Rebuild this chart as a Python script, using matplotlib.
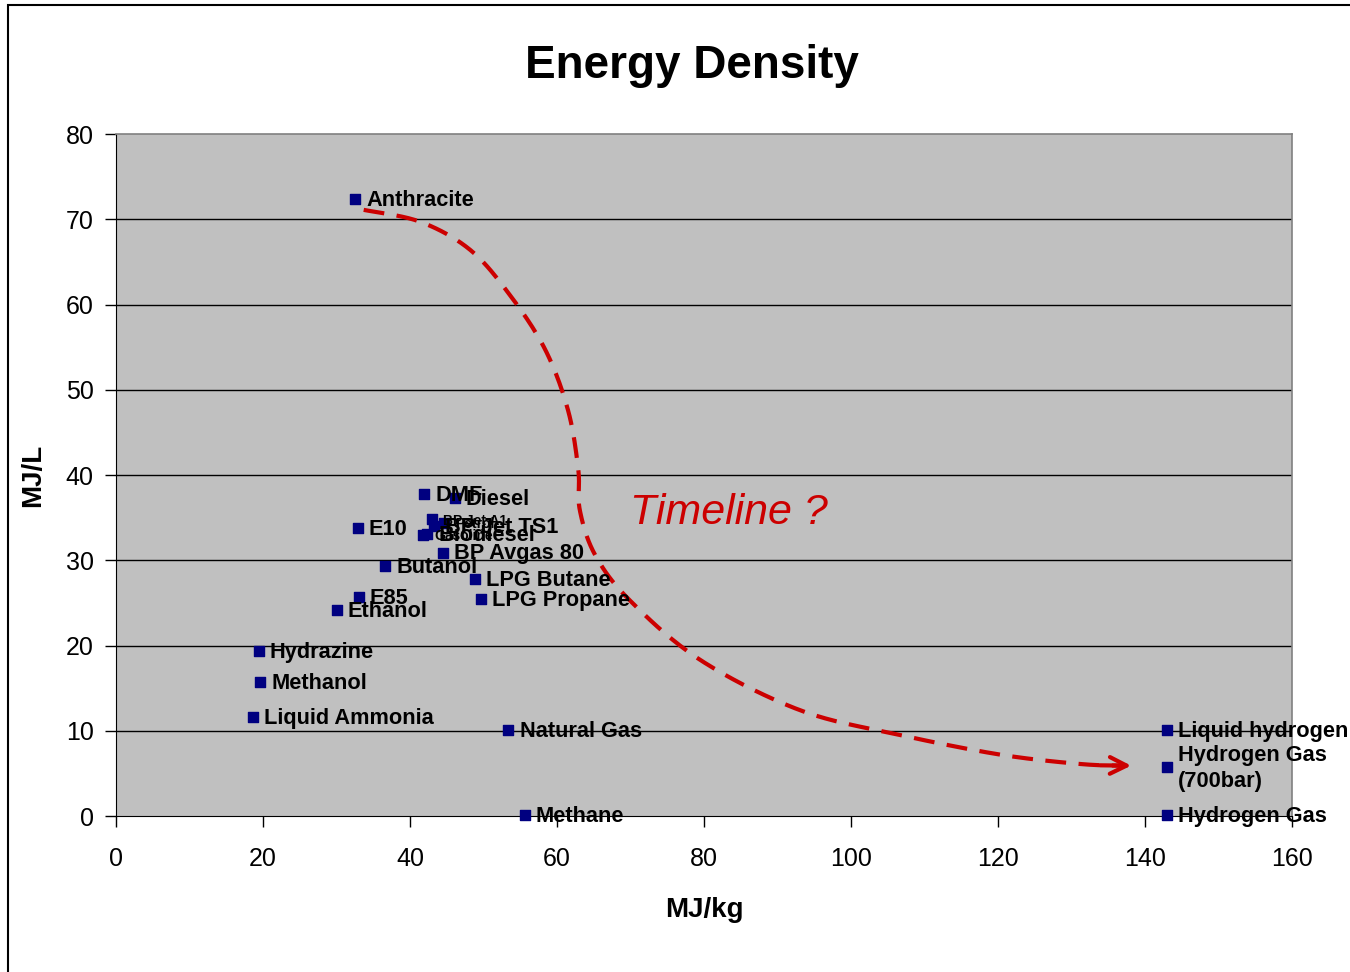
import matplotlib
matplotlib.use('Agg')
import matplotlib.pyplot as plt
import numpy as np
from matplotlib.patches import Rectangle

plt.rcParams['font.family'] = ['Liberation Sans', 'DejaVu Sans']

# Fuels: name, MJ/kg, MJ/L
names = ['Anthracite', 'DMF', 'Diesel', 'E10', 'BP Jet A1', 'BP Jet TS1', 'Petrol',
         'Biodiesel', 'Gasoline', 'BP Avgas 80', 'Butanol', 'LPG Butane', 'LPG Propane',
         'E85', 'Ethanol', 'Hydrazine', 'Methanol', 'Liquid Ammonia', 'Natural Gas',
         'Methane', 'Liquid hydrogen', 'Hydrogen Gas\n(700bar)', 'Hydrogen Gas']
mj_kg = [32.5, 41.9, 46.1, 32.9, 43.0, 43.2, 44.6,
         42.3, 41.8, 44.5, 36.6, 48.8, 49.6,
         33.0, 30.0, 19.4, 19.6, 18.6, 53.4,
         55.6, 143.0, 143.0, 143.0]
mj_l = [72.4, 37.8, 37.3, 33.8, 34.8, 34.0, 34.4,
        33.1, 33.0, 30.9, 29.3, 27.8, 25.5,
        25.7, 24.2, 19.3, 15.7, 11.6, 10.1,
        0.1, 10.1, 5.7, 0.1]
small = ['BP Jet A1', 'Petrol', 'Gasoline']

# hand-drawn "timeline" curve control points (data units)
curve_x = [33.7, 41.4, 48.2, 53.6, 58.4, 61.5, 62.9, 63.1, 65.2, 69.9, 79.5, 93.1,
           106.7, 120.3, 131.2, 137.3]
curve_y = [71.1, 69.7, 66.4, 61.1, 54.7, 47.6, 40.6, 35.9, 30.6, 25.3, 18.3, 12.4,
           9.5, 7.2, 6.1, 5.9]


def smooth(xs, ys, n=20):
    # catmull-rom through the control points, just to get a rounded pen stroke
    p = np.column_stack([xs, ys])
    p = np.vstack([p[0], p, p[-1]])
    out = []
    t = np.linspace(0, 1, n, endpoint=False)[:, None]
    for i in range(1, len(p) - 2):
        p0, p1, p2, p3 = p[i - 1], p[i], p[i + 1], p[i + 2]
        out.append(0.5 * (2 * p1 + (-p0 + p2) * t + (2 * p0 - 5 * p1 + 4 * p2 - p3) * t ** 2
                          + (-p0 + 3 * p1 - 3 * p2 + p3) * t ** 3))
    out.append(p[-2][None, :])
    out = np.vstack(out)
    return out[:, 0], out[:, 1]


fig = plt.figure(figsize=(13.5, 9.72), dpi=100)
ax = fig.add_axes([116/1350, 1-816/972, (1292-116)/1350, (816-134)/972])
ax.set_facecolor('#C0C0C0')

ax.set_xlim(0, 160)
ax.set_ylim(0, 80)
ax.set_xticks(range(0, 161, 20))
ax.set_yticks(range(0, 81, 10))
ax.tick_params(labelsize=18, length=8, width=1, direction='out')
ax.tick_params(axis='x', pad=14)
ax.tick_params(axis='y', pad=8)
for y in range(10, 80, 10):
    ax.axhline(y, color='black', lw=1, zorder=1)
for s in ['top', 'right']:
    ax.spines[s].set_color('#808080')
    ax.spines[s].set_linewidth(1.2)
for s in ['left', 'bottom']:
    ax.spines[s].set_color('black')

sx, sy = smooth(curve_x, curve_y)
ax.plot(sx, sy, color='#CC0000', lw=3, ls=(0, (5, 3)), zorder=2)
ax.annotate('', xy=(138.5, 5.9), xytext=(133.5, 5.95),
            arrowprops=dict(arrowstyle='->', color='#CC0000', lw=3, mutation_scale=30))

ax.scatter(mj_kg, mj_l, marker='s', s=42, color='#000080', zorder=4, clip_on=False)
for n, x, y in zip(names, mj_kg, mj_l):
    fs = 10 if n in small else 15.7
    ax.annotate(n, (x, y), xytext=(8, -1), textcoords='offset points', ha='left',
                va='center', fontsize=fs, fontweight='bold', zorder=5,
                annotation_clip=False, linespacing=1.3)

ax.text(69.9, 35.5, 'Timeline ?', color='#CC0000', fontsize=31, style='italic',
        ha='left', va='center', zorder=5)

ax.set_xlabel('MJ/kg', fontsize=20, fontweight='bold', labelpad=19)
ax.set_ylabel('MJ/L', fontsize=20, fontweight='bold', labelpad=14)
fig.text(692/1350, 1-66/972, 'Energy Density', fontsize=33, fontweight='bold',
         ha='center', va='center')

fig.patches.append(Rectangle((8/1350, -0.1), 1.2, 1.1 - 5/972, transform=fig.transFigure,
                             fill=False, edgecolor='black', lw=1.5))

fig.savefig('out.png', dpi=100)
